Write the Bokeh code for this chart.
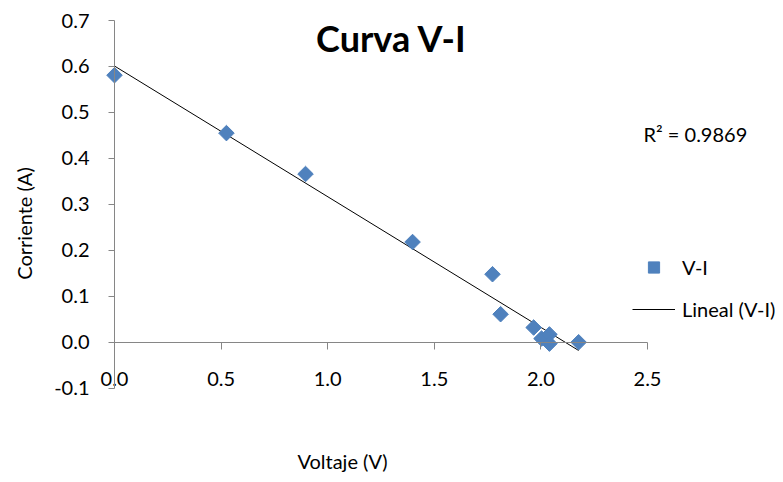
import numpy as np
from bokeh.plotting import figure
from bokeh.models import (Range1d, FixedTicker, NumeralTickFormatter, Label,
                          Legend, LegendItem, ColumnDataSource)
from bokeh.embed import file_html
from bokeh.resources import INLINE

# ---- data ----
voltaje = [0.0, 0.525, 0.896, 1.398, 1.773, 1.811, 1.966, 2.003, 2.04, 2.04, 2.177]
corriente = [0.581, 0.455, 0.366, 0.218, 0.148, 0.061, 0.032, 0.008, 0.017, -0.003, 0.0]
x_ticks = [0.0, 0.5, 1.0, 1.5, 2.0, 2.5]
y_ticks = [-0.1, 0.0, 0.1, 0.2, 0.3, 0.4, 0.5, 0.6, 0.7]
titulo = "Curva V-I"
r2_text = "R\u00b2 = 0.9869"
x_label = "Voltaje (V)"
y_label = "Corriente (A)"
serie = "V-I"
serie_lineal = "Lineal (V-I)"

FONT = "Lato"
FS = "20px"
BLUE = "#4F81BD"
AXIS = "#868686"

W, H = 775, 474
# plot area in pixels: x 0..2.5 -> 114..647, y -0.1..0.7 -> 387.7..20
px0, px1 = 114.0, 647.0
py_top, py_bot = 20.0, 387.7
sx = (px1 - px0) / (x_ticks[-1] - x_ticks[0])
sy = (py_bot - py_top) / (y_ticks[-1] - y_ticks[0])
x_rng = Range1d(x_ticks[0] - px0 / sx, x_ticks[0] + (W - px0) / sx)
y_rng = Range1d(y_ticks[0] - (H - py_bot) / sy, y_ticks[-1] + py_top / sy)

p = figure(width=W, height=H, min_border=0,
           x_range=x_rng, y_range=y_rng,
           output_backend="svg", toolbar_location=None)
p.outline_line_color = None
p.grid.grid_line_color = None
p.background_fill_color = "white"
p.border_fill_color = "white"

# axes crossing at the origin
p.xaxis.fixed_location = 0
p.yaxis.fixed_location = 0
p.xaxis.bounds = (x_ticks[0], x_ticks[-1])
p.yaxis.bounds = (y_ticks[0], y_ticks[-1])
p.xaxis.ticker = FixedTicker(ticks=x_ticks)
p.yaxis.ticker = FixedTicker(ticks=y_ticks)
p.xaxis.formatter = NumeralTickFormatter(format="0.0")
p.yaxis.formatter = NumeralTickFormatter(format="0.0")
for ax in (p.xaxis[0], p.yaxis[0]):
    ax.axis_line_color = AXIS
    ax.major_tick_line_color = AXIS
    ax.minor_tick_line_color = None
    ax.major_tick_in = 0
    ax.major_label_text_font = FONT
    ax.major_label_text_font_size = FS
    ax.major_label_text_color = "#000000"
p.yaxis.major_tick_out = 6
p.yaxis.major_label_standoff = 19
p.xaxis.major_tick_out = 7
p.xaxis.major_label_standoff = 23

# trendline (least squares fit of the data)
vx = np.array(voltaje)
cy = np.array(corriente)
m, b = np.polyfit(vx, cy, 1)
xf = np.array([vx.min(), vx.max()])
line_r = p.line(xf, m * xf + b, line_color="black", line_width=1)

src = ColumnDataSource(dict(x=voltaje, y=corriente))
pts = p.scatter("x", "y", source=src, marker="square", size=11, angle=np.pi / 4,
                fill_color=BLUE, line_color=BLUE)

legend = Legend(items=[LegendItem(label=serie, renderers=[pts]),
                       LegendItem(label=serie_lineal, renderers=[line_r])],
                location=(632, 151), orientation="vertical",
                glyph_width=43, glyph_height=28, label_height=20, spacing=14,
                label_standoff=7, padding=0, margin=0,
                border_line_color=None, background_fill_alpha=0,
                label_text_font=FONT, label_text_font_size=FS,
                label_text_color="#000000")
p.add_layout(legend, "center")

# texts
p.add_layout(Label(x=391, y=437, x_units="screen", y_units="screen", text=titulo,
                   text_font=FONT, text_font_size="36px", text_font_style="bold",
                   text_align="center", text_baseline="alphabetic", text_color="#000000"))
p.add_layout(Label(x=643, y=341, x_units="screen", y_units="screen", text=r2_text,
                   text_font=FONT, text_font_size=FS,
                   text_align="left", text_baseline="alphabetic", text_color="#000000"))
p.add_layout(Label(x=23, y=251, x_units="screen", y_units="screen", text=y_label,
                   angle=np.pi / 2, text_font=FONT, text_font_size=FS,
                   text_align="center", text_baseline="alphabetic", text_color="#000000"))
p.add_layout(Label(x=342, y=14, x_units="screen", y_units="screen", text=x_label,
                   text_font=FONT, text_font_size=FS,
                   text_align="center", text_baseline="alphabetic", text_color="#000000"))

open("out.html", "w").write(file_html(p, INLINE))
